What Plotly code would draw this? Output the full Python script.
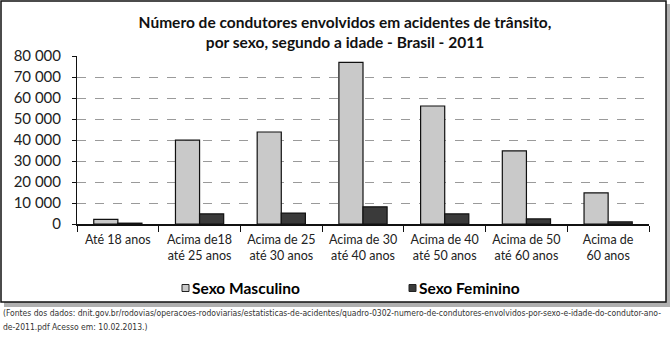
import plotly.graph_objects as go

categories = ["Até 18 anos", "Acima de18<br>até 25 anos", "Acima de 25<br>até 30 anos",
              "Acima de 30<br>até 40 anos", "Acima de 40<br>até 50 anos",
              "Acima de 50<br>até 60 anos", "Acima de<br>60 anos"]
masculino = [2200, 39900, 43800, 77000, 56200, 34800, 14800]
feminino = [400, 4800, 5200, 8200, 4800, 2400, 1000]
y_ticks = [0, 10000, 20000, 30000, 40000, 50000, 60000, 70000, 80000]

W, H = 672, 342
L, R, T, B = 77, 23, 56, 118
PW, PH = W - L - R, H - T - B

def px(x):
    return (x - L) / PW

def py(y):
    return (H - B - y) / PH

fig = go.Figure()
fig.add_trace(go.Bar(x=categories, y=masculino, name="Sexo Masculino",
                     marker=dict(color="#c9c9c9", line=dict(color="#111", width=1.2))))
fig.add_trace(go.Bar(x=categories, y=feminino, name="Sexo Feminino",
                     marker=dict(color="#3a3a3a", line=dict(color="#111", width=1.2))))

font_main = "Lato, 'Open Sans', sans-serif"
note_font = dict(family="'Liberation Sans Narrow', 'DejaVu Sans Condensed', 'Liberation Sans', sans-serif",
                 size=8.5, color="#333")

fig.update_layout(
    width=W, height=H,
    margin=dict(l=L, r=R, t=T, b=B),
    paper_bgcolor="white", plot_bgcolor="white",
    barmode="group", bargap=0.41, bargroupgap=0,
    showlegend=False,
    separators=", ",
    font=dict(family=font_main, color="#222", size=13),
    title=dict(text="<b>Número de condutores envolvidos em acidentes de trânsito,<br>por sexo, segundo a idade - Brasil - 2011</b>",
               xref="container", x=345 / W, xanchor="center",
               yref="container", y=1 - 28 / H, yanchor="middle",
               font=dict(family=font_main, size=15.5, color="#111")),
)

fig.update_yaxes(range=[0, 80000], tickvals=y_ticks, tickformat=",d",
                 showgrid=True, gridcolor="#9a9a9a", griddash="dash", gridwidth=1,
                 zeroline=False, showline=True, linecolor="#111", linewidth=1,
                 ticks="outside", ticklen=4, tickcolor="#111", ticklabelstandoff=8,
                 tickfont=dict(size=15, color="#222"))
fig.update_xaxes(showline=True, linecolor="#111", linewidth=1.5,
                 ticks="outside", tickson="boundaries", ticklen=6, tickcolor="#111",
                 ticklabelstandoff=3,
                 tickfont=dict(size=12.5, color="#222"))

# chart frame and shadow
fig.add_shape(type="rect", xref="paper", yref="paper",
              x0=px(4), x1=px(670), y0=py(307), y1=py(4),
              fillcolor="#b0b0b0", line=dict(width=0), layer="below")
fig.add_shape(type="rect", xref="paper", yref="paper",
              x0=px(1), x1=px(666), y0=py(302), y1=py(1),
              fillcolor="white", line=dict(color="#111", width=1.5), layer="below")

# legend (manual)
legend_items = [("Sexo Masculino", "#c9c9c9", 182), ("Sexo Feminino", "#3a3a3a", 409)]
for label, color, x0 in legend_items:
    fig.add_shape(type="rect", xref="paper", yref="paper",
                  x0=px(x0), x1=px(x0 + 7), y0=py(291.5), y1=py(284.5),
                  fillcolor=color, line=dict(color="#222", width=1))
    fig.add_annotation(xref="paper", yref="paper", x=px(x0 + 8), y=py(288),
                       xanchor="left", yanchor="middle", showarrow=False,
                       text="<b>" + label + "</b>",
                       font=dict(family=font_main, size=15.5, color="#000"))

# source note
fig.add_annotation(xref="paper", yref="paper", x=px(1), y=py(312.5),
                   xanchor="left", yanchor="middle", showarrow=False, align="left",
                   text="(Fontes dos dados: dnit.gov.br/rodovias/operacoes-rodoviarias/estatisticas-de-acidentes/quadro-0302-numero-de-condutores-envolvidos-por-sexo-e-idade-do-condutor-ano-",
                   font=note_font)
fig.add_annotation(xref="paper", yref="paper", x=px(1), y=py(326.5),
                   xanchor="left", yanchor="middle", showarrow=False, align="left",
                   text="de-2011.pdf Acesso em: 10.02.2013.)",
                   font=note_font)

fig.write_html("out.html")
